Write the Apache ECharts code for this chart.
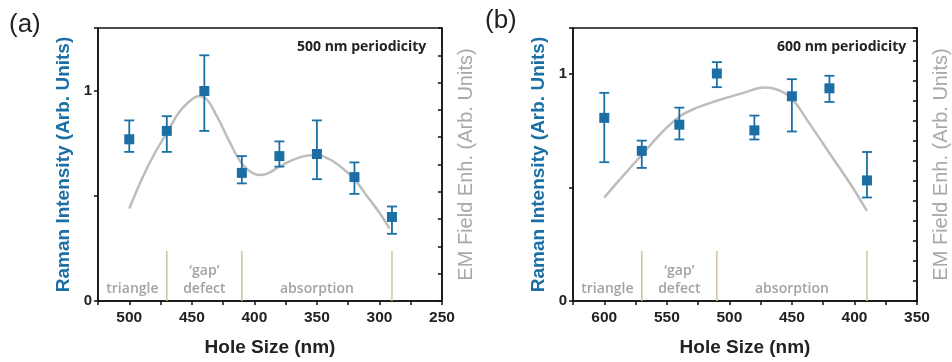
<!DOCTYPE html>
<html><head><meta charset="utf-8">
<script src="https://cdn.jsdelivr.net/npm/echarts@6/dist/echarts.min.js"></script>
<style>html,body{margin:0;padding:0;background:#fff}#c{width:952px;height:362px}</style>
</head><body><div id="c"></div>
<script>
// ---- data: panel (a) 500 nm periodicity ----
var aHole = [500, 470, 440, 410, 380, 350, 320, 290];
var aRaman = [0.77, 0.81, 1.00, 0.61, 0.69, 0.70, 0.59, 0.40];
var aErrLow = [0.71, 0.71, 0.81, 0.56, 0.64, 0.58, 0.51, 0.32];
var aErrHigh = [0.86, 0.88, 1.17, 0.69, 0.76, 0.86, 0.66, 0.45];
var aSimHole = [500, 490, 480, 470, 460, 450, 445, 440, 430, 420, 410, 400, 395, 390, 380, 370, 360, 350, 340, 330, 320, 310, 300, 292];
var aSimEM = [0.44, 0.58, 0.70, 0.80, 0.90, 0.96, 0.975, 0.97, 0.88, 0.76, 0.655, 0.605, 0.60, 0.605, 0.64, 0.67, 0.69, 0.695, 0.675, 0.635, 0.58, 0.50, 0.42, 0.345];
var aBounds = [470, 410, 290];

// ---- data: panel (b) 600 nm periodicity ----
var bHole = [600, 570, 540, 510, 480, 450, 420, 390];
var bRaman = [0.805, 0.66, 0.775, 1.00, 0.75, 0.90, 0.935, 0.53];
var bErrLow = [0.61, 0.585, 0.71, 0.94, 0.71, 0.745, 0.875, 0.455];
var bErrHigh = [0.915, 0.705, 0.85, 1.05, 0.815, 0.975, 0.99, 0.655];
var bSimHole = [600, 585, 570, 555, 540, 528, 510, 488, 472, 464, 451, 435, 419, 403, 390];
var bSimEM = [0.455, 0.55, 0.642, 0.735, 0.81, 0.845, 0.88, 0.916, 0.938, 0.933, 0.894, 0.772, 0.642, 0.512, 0.396];
var bBounds = [570, 510, 390];

var regionNames = ['triangle', '\u2018gap\u2019', 'defect', 'absorption'];
var xTickLabels = [250, 300, 350, 400, 450, 500, 550, 600];
var yTickLabels = [0, 1];

var BLUE = '#1b6fa5', GRAYLINE = '#bdbdbd', TAN = '#cfc59a', LABELGRAY = '#a3a3a3';

function zip2(a, b) { return a.map(function (v, i) { return [v, b[i]]; }); }
function zip3(a, b, c) { return a.map(function (v, i) { return [v, b[i], c[i]]; }); }

function regionLabels(bounds, xmax) {
  var edges = [xmax].concat(bounds);
  return [
    [(edges[0] + edges[1]) / 2, regionNames[0], 0],
    [(edges[1] + edges[2]) / 2, regionNames[1], 1],
    [(edges[1] + edges[2]) / 2, regionNames[2], 0],
    [(edges[2] + edges[3]) / 2, regionNames[3], 0]
  ];
}

function xAxisDef(gi, min, max) {
  return {
    gridIndex: gi, type: 'value', min: min, max: max, interval: 25, inverse: true,
    name: 'Hole Size (nm)', nameLocation: 'middle', nameGap: 37,
    nameTextStyle: { fontFamily: 'Liberation Sans', fontWeight: 'bold', fontSize: 19, color: '#222' },
    axisLine: { show: true, lineStyle: { color: '#111', width: 1.5 } },
    axisTick: { show: true, inside: false, length: 4, lineStyle: { color: '#111', width: 1.5 } },
    axisLabel: {
      margin: 9, fontFamily: 'Liberation Sans', fontWeight: 'bold', fontSize: 15.5, color: '#222',
      formatter: function (v) { return xTickLabels.indexOf(v) >= 0 ? String(v) : ''; }
    },
    splitLine: { show: false }
  };
}
function yLeftDef(gi, max) {
  return {
    gridIndex: gi, type: 'value', min: 0, max: max, interval: 0.5, position: 'left',
    name: 'Raman Intensity (Arb. Units)', nameLocation: 'middle', nameGap: 25, nameRotate: 90,
    nameTextStyle: { fontFamily: 'Liberation Sans', fontWeight: 'bold', fontSize: 19, color: BLUE },
    axisLine: { show: true, lineStyle: { color: '#111', width: 1.5 } },
    axisTick: { show: true, inside: false, length: 4, lineStyle: { color: '#111', width: 1.5 } },
    axisLabel: {
      margin: 6, fontFamily: 'Liberation Sans', fontWeight: 'bold', fontSize: 15, color: '#222',
      formatter: function (v) { return yTickLabels.indexOf(v) >= 0 ? String(v) : ''; }
    },
    splitLine: { show: false }
  };
}
function yRightDef(gi, max) {
  return {
    gridIndex: gi, type: 'value', min: 0, max: max, interval: 1, position: 'right',
    name: 'EM Field Enh. (Arb. Units)', nameLocation: 'middle', nameGap: 14, nameRotate: 90,
    nameTextStyle: { fontFamily: 'Liberation Sans', fontSize: 20, color: '#a8a8a8' },
    axisLine: { show: true, lineStyle: { color: '#111', width: 1.5 } },
    axisTick: { show: true, inside: true, length: 4, lineStyle: { color: '#111', width: 1.5 } },
    axisLabel: { show: false },
    splitLine: { show: false }
  };
}

function errSeries(xi, yi, data) {
  return {
    type: 'custom', xAxisIndex: xi, yAxisIndex: yi, data: data, z: 3,
    renderItem: function (params, api) {
      var x = api.value(0);
      var lo = api.coord([x, api.value(1)]);
      var hi = api.coord([x, api.value(2)]);
      var cw = 5;
      var st = { stroke: BLUE, lineWidth: 1.8 };
      return { type: 'group', children: [
        { type: 'line', shape: { x1: lo[0], y1: lo[1], x2: hi[0], y2: hi[1] }, style: st },
        { type: 'line', shape: { x1: lo[0] - cw, y1: lo[1], x2: lo[0] + cw, y2: lo[1] }, style: st },
        { type: 'line', shape: { x1: hi[0] - cw, y1: hi[1], x2: hi[0] + cw, y2: hi[1] }, style: st }
      ]};
    }
  };
}
function pointSeries(xi, yi, data) {
  return { type: 'scatter', xAxisIndex: xi, yAxisIndex: yi, data: data, symbol: 'rect', symbolSize: 10,
    itemStyle: { color: BLUE, opacity: 1 }, z: 4 };
}
function simSeries(xi, yi, data) {
  return { type: 'line', xAxisIndex: xi, yAxisIndex: yi, data: data, smooth: 0.4, showSymbol: false,
    lineStyle: { color: GRAYLINE, width: 2.5 }, z: 2 };
}
function boundSeries(xi, yi, bounds) {
  return {
    type: 'custom', xAxisIndex: xi, yAxisIndex: yi, data: bounds.map(function (b) { return [b]; }), z: 1,
    renderItem: function (params, api) {
      var p = api.coord([api.value(0), 0]);
      return { type: 'line', shape: { x1: p[0], y1: p[1], x2: p[0], y2: p[1] - 50 },
        style: { stroke: TAN, lineWidth: 1.5 } };
    }
  };
}
function labelSeries(xi, yi, labels) {
  return {
    type: 'custom', xAxisIndex: xi, yAxisIndex: yi, data: labels, z: 1,
    renderItem: function (params, api) {
      var d = labels[params.dataIndex];
      var p = api.coord([d[0], 0]);
      return { type: 'text', x: p[0], y: p[1] - 12 - d[2] * 18,
        style: { text: d[1], fill: LABELGRAY, font: '600 14px "Open Sans"', align: 'center', verticalAlign: 'middle' } };
    }
  };
}

var chart = echarts.init(document.getElementById('c'));
chart.setOption({
  animation: false,
  backgroundColor: '#fff',
  grid: [
    { left: 98, top: 28, width: 344, height: 277, show: true, borderColor: '#111', borderWidth: 1.5, backgroundColor: 'transparent' },
    { left: 573, top: 28, width: 344, height: 277, show: true, borderColor: '#111', borderWidth: 1.5, backgroundColor: 'transparent' }
  ],
  xAxis: [xAxisDef(0, 250, 525), xAxisDef(1, 350, 625)],
  yAxis: [yLeftDef(0, 1.3), yRightDef(0, 10), yLeftDef(1, 1.2), yRightDef(1, 13.66)],
  graphic: [
    { type: 'text', left: 9, top: 12, style: { text: '(a)', font: '26px "Liberation Sans"', fill: '#222' } },
    { type: 'text', left: 485, top: 8, style: { text: '(b)', font: '26px "Liberation Sans"', fill: '#222' } },
    { type: 'text', left: 297, top: 40, style: { text: '500 nm periodicity', font: 'bold 14px "Open Sans"', fill: '#222' } },
    { type: 'text', left: 777, top: 40, style: { text: '600 nm periodicity', font: 'bold 14px "Open Sans"', fill: '#222' } }
  ],
  series: [
    boundSeries(0, 0, aBounds),
    labelSeries(0, 0, regionLabels(aBounds, 525)),
    simSeries(0, 0, zip2(aSimHole, aSimEM)),
    errSeries(0, 0, zip3(aHole, aErrLow, aErrHigh)),
    pointSeries(0, 0, zip2(aHole, aRaman)),
    boundSeries(1, 2, bBounds),
    labelSeries(1, 2, regionLabels(bBounds, 625)),
    simSeries(1, 2, zip2(bSimHole, bSimEM)),
    errSeries(1, 2, zip3(bHole, bErrLow, bErrHigh)),
    pointSeries(1, 2, zip2(bHole, bRaman))
  ]
});
</script></body></html>
